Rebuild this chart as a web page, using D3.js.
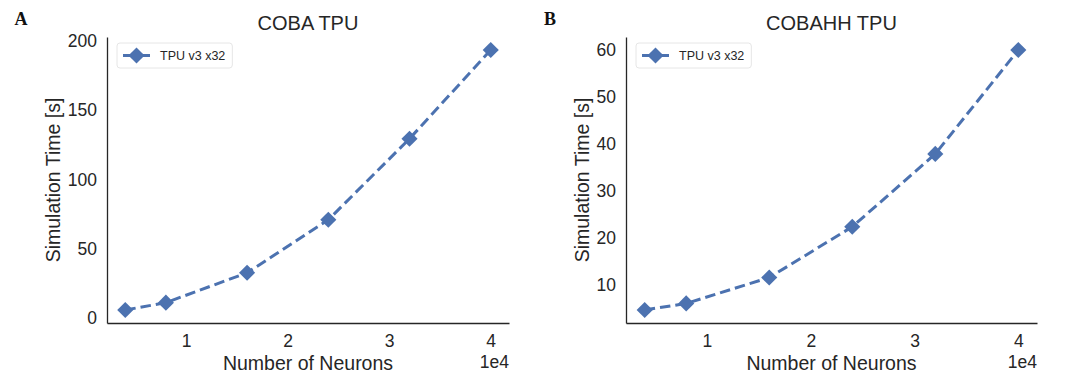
<!DOCTYPE html>
<html>
    <head>
        <title>TPU Simulation Time</title>
        <meta charset="UTF-8">
        <style>
            body { margin: 0; background: white; }
            text { font-family: "Liberation Sans", Arial, sans-serif; fill: #262626; }
        </style>
    </head>
    <body>
        <script src="https://cdn.jsdelivr.net/npm/d3@7"></script>
        <script>

            //Chart data.
            var neurons = [4000, 8000, 16000, 24000, 32000, 40000];
            var cobaTimes = [6.0, 11.3, 32.8, 71.0, 129.4, 193.3];
            var cobahhTimes = [4.7, 6.1, 11.6, 22.4, 37.9, 60.0];
            var xTicks = [10000, 20000, 30000, 40000];
            var cobaTicks = [0, 50, 100, 150, 200];
            var cobahhTicks = [10, 20, 30, 40, 50, 60];
            var seriesName = "TPU v3 x32";

            var blue = "#4c72b0",
                axisColor = "#262626";

            var svg = d3.select("body").append("svg")
                        .attr("width", 1072)
                        .attr("height", 375);

            //Matplotlib style 5% padding around the data extent.
            function padded(values) {
                var ext = d3.extent(values);
                var pad = (ext[1] - ext[0]) * 0.05;
                return [ext[0] - pad, ext[1] + pad];
            }

            //Draws one panel. left/right/top/bottom are the plot area edges.
            function makePanel(opts) {
                var x = d3.scaleLinear().domain(padded(neurons)).range([opts.left, opts.right]);
                var y = d3.scaleLinear().domain(padded(opts.values)).range([opts.bottom, opts.top]);

                var g = svg.append("g");

                //Panel letter.
                g.append("text")
                 .attr("x", opts.letterX)
                 .attr("y", 25)
                 .attr("text-anchor", "middle")
                 .attr("font-weight", "bold")
                 .attr("font-size", 18)
                 .style("font-family", "'Liberation Serif', 'Times New Roman', serif")
                 .style("fill", "#111")
                 .text(opts.letter);

                //Title.
                g.append("text")
                 .attr("x", (opts.left + opts.right) / 2)
                 .attr("y", 30)
                 .attr("text-anchor", "middle")
                 .attr("font-size", 20)
                 .text(opts.title);

                //Axes without tick marks.
                var xAxis = g.append("g")
                             .attr("transform", "translate(0," + opts.bottom + ")")
                             .call(d3.axisBottom(x).tickValues(xTicks).tickSize(0).tickPadding(12)
                                     .tickFormat(function(d) { return d / 10000; }));
                var yAxis = g.append("g")
                             .attr("transform", "translate(" + opts.left + ",0)")
                             .call(d3.axisLeft(y).tickValues(opts.ticks).tickSize(0).tickPadding(10));

                [xAxis, yAxis].forEach(function(a) {
                    a.select(".domain").attr("stroke", axisColor).attr("stroke-width", 1.3);
                    a.selectAll("text")
                     .attr("font-size", 17.5)
                     .attr("font-family", null)
                     .attr("fill", axisColor);
                });

                //Axis labels.
                g.append("text")
                 .attr("x", (opts.left + opts.right) / 2)
                 .attr("y", 370)
                 .attr("text-anchor", "middle")
                 .attr("font-size", 19.5)
                 .text("Number of Neurons");
                g.append("text")
                 .attr("x", opts.right)
                 .attr("y", 368)
                 .attr("text-anchor", "end")
                 .attr("font-size", 17.5)
                 .text("1e4");
                g.append("text")
                 .attr("transform", "translate(" + opts.yLabelX + "," + ((opts.top + opts.bottom) / 2) + ") rotate(-90)")
                 .attr("text-anchor", "middle")
                 .attr("font-size", 19.5)
                 .text("Simulation Time [s]");

                //Dashed line with diamond markers.
                var pts = neurons.map(function(n, i) { return [n, opts.values[i]]; });
                var line = d3.line()
                             .x(function(d) { return x(d[0]); })
                             .y(function(d) { return y(d[1]); });
                g.append("path")
                 .datum(pts)
                 .attr("d", line)
                 .attr("fill", "none")
                 .attr("stroke", blue)
                 .attr("stroke-width", 3)
                 .attr("stroke-dasharray", "10.5,5");

                var diamond = d3.symbol().type(d3.symbolSquare).size(130);
                g.selectAll(".marker")
                 .data(pts)
                 .enter().append("path")
                 .attr("class", "marker")
                 .attr("d", diamond)
                 .attr("fill", blue)
                 .attr("transform", function(d) { return "translate(" + x(d[0]) + "," + y(d[1]) + ") rotate(45)"; });

                //Legend.
                var lx = opts.left + 10,
                    ly = 43;
                var legend = g.append("g");
                var legendText = legend.append("text")
                                       .attr("x", lx + 43)
                                       .attr("y", ly + 17)
                                       .attr("font-size", 12.5)
                                       .text(seriesName);
                var tw = legendText.node().getComputedTextLength();
                legend.insert("rect", "text")
                      .attr("x", lx)
                      .attr("y", ly)
                      .attr("width", tw + 50)
                      .attr("height", 25)
                      .attr("rx", 3)
                      .attr("fill", "white")
                      .attr("stroke", "#e6e6e6");
                legend.append("line")
                      .attr("x1", lx + 6).attr("x2", lx + 33)
                      .attr("y1", ly + 12.5).attr("y2", ly + 12.5)
                      .attr("stroke", blue)
                      .attr("stroke-width", 3);
                legend.append("path")
                      .attr("d", diamond)
                      .attr("fill", blue)
                      .attr("transform", "translate(" + (lx + 19.5) + "," + (ly + 12.5) + ") rotate(45)");
            }

            makePanel({ letter: "A", letterX: 21, title: "COBA TPU", values: cobaTimes, ticks: cobaTicks,
                        left: 107, right: 509, top: 37, bottom: 323, yLabelX: 60 });
            makePanel({ letter: "B", letterX: 550, title: "COBAHH TPU", values: cobahhTimes, ticks: cobahhTicks,
                        left: 626, right: 1037, top: 37, bottom: 323, yLabelX: 589 });

        </script>
    </body>
</html>
